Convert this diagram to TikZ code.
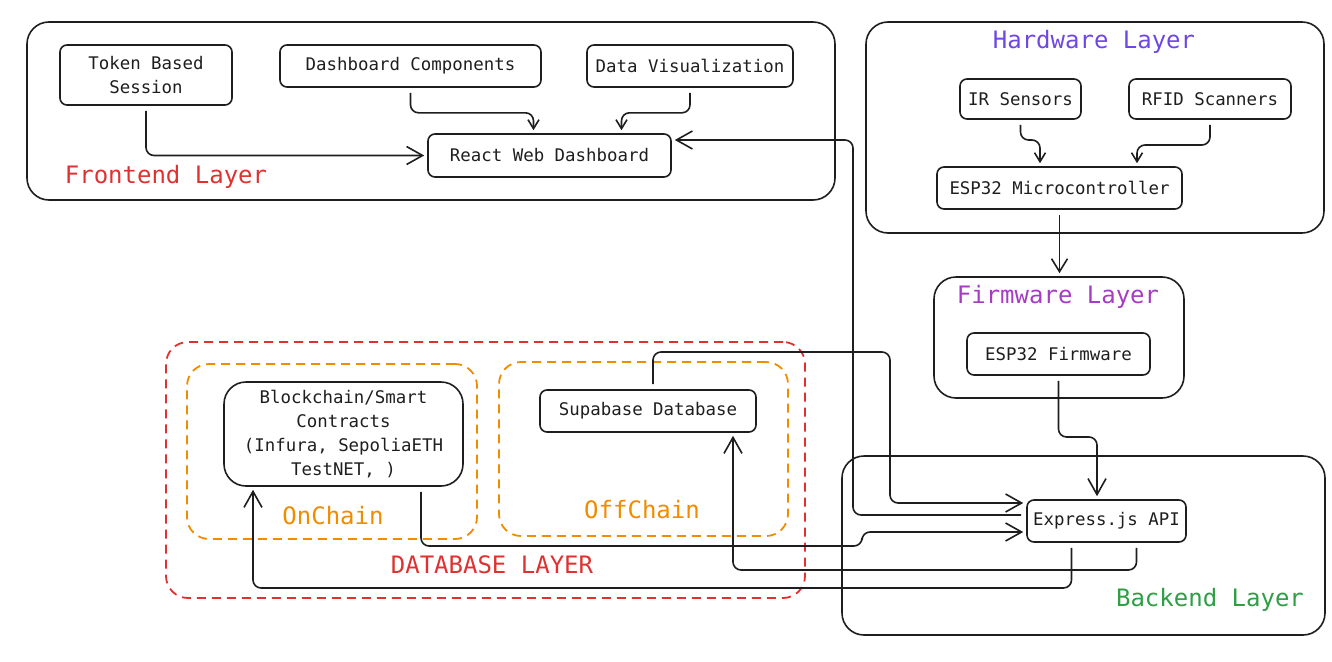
\documentclass[tikz,border=0pt]{standalone}
\usepackage{fontspec}
\setmonofont{DejaVu Sans Mono}
\usepackage{xcolor}
\usetikzlibrary{arrows.meta,positioning}
\definecolor{ink}{HTML}{1E1E1E}
\definecolor{frontred}{HTML}{E03131}
\definecolor{hwviolet}{HTML}{6F47E3}
\definecolor{fwgrape}{HTML}{A63CC4}
\definecolor{bkgreen}{HTML}{2F9E44}
\definecolor{chainorange}{HTML}{F08C00}
\tikzset{
sz/.style 2 args={minimum width=#1pt,minimum height=#2pt},
box/.style={draw=ink,line width=1.6pt,rounded corners=7pt,inner sep=0pt,align=center,text=ink,font=\ttfamily\fontsize{17.4}{24}\selectfont},
layer/.style={draw=ink,line width=1.6pt,rounded corners=22pt,inner sep=0pt},
dbox/.style={line width=1.8pt,dash pattern=on 9pt off 6pt,rounded corners=22pt,inner sep=0pt},
lbl/.style={font=\ttfamily\fontsize{24}{28}\selectfont},
link/.style={draw=ink,line width=1.6pt,rounded corners=8pt,shorten <=5pt,shorten >=3pt,-{Straight Barb[length=16pt,width=18pt]}},
sm/.style={-{Straight Barb[length=9pt,width=11pt]}},
md/.style={-{Straight Barb[length=13pt,width=16pt]}}
}
\begin{document}
\begin{tikzpicture}[x=1pt,y=-1pt]
\useasboundingbox (0,0) rectangle (1332,661);
% layers
\node[layer,sz={808}{178}] (front) at (431,111) {};
\node[layer,sz={458}{211}] (hwl) at (1095,127.5) {};
\node[layer,sz={250}{121}] (fwl) at (1059,337.5) {};
\node[layer,sz={483}{179}] (bkl) at (1083.5,545.5) {};
\node[dbox,draw=frontred,sz={639}{256}] (dbl) at (485.5,470) {};
\node[dbox,draw=chainorange,sz={290}{175}] (onl) at (332,451.5) {};
\node[dbox,draw=chainorange,sz={289}{174}] (offl) at (643.5,449) {};
\node[lbl,text=frontred] (frontlbl) at (166,177) {Frontend Layer};
\node[lbl,text=hwviolet] (hwlbl) at (1094,42) {Hardware Layer};
\node[lbl,text=fwgrape] (fwlbl) at (1058,297) {Firmware Layer};
\node[lbl,text=bkgreen] (bklbl) at (1210,600) {Backend Layer};
\node[lbl,text=frontred] (dblbl) at (492,565) {DATABASE LAYER};
\node[lbl,text=chainorange] (onlbl) at (333,516) {OnChain};
\node[lbl,text=chainorange] (offlbl) at (642,510) {OffChain};
% components
\node[box,sz={172}{60}] (tok) at (146,75) {Token Based\\Session};
\node[box,sz={261}{42}] (dash) at (410.5,66) {Dashboard Components};
\node[box,sz={206}{42}] (viz) at (690,66) {Data Visualization};
\node[box,sz={243}{43}] (react) at (549.5,155.5) {React Web Dashboard};
\node[box,sz={121}{40}] (irs) at (1020.5,99) {IR Sensors};
\node[box,sz={162}{40}] (rfid) at (1210,99) {RFID Scanners};
\node[box,sz={245}{42}] (esp) at (1059.5,188) {ESP32 Microcontroller};
\node[box,sz={183}{42}] (fw) at (1058.5,354) {ESP32 Firmware};
\node[box,sz={159}{42}] (api) at (1106.5,521) {Express.js API};
\node[box,sz={239}{104},rounded corners=22pt] (chain) at (343.5,434) {Blockchain/Smart\\Contracts\\(Infura, SepoliaETH\\TestNET, )};
\node[box,sz={216}{42}] (supa) at (648,411) {Supabase Database};
% links
\draw[link] (tok.south) |- (react.west);
\draw[link,sm] (dash.south) -- ++(0,25) -| ([xshift=-16pt]react.north);
\draw[link,sm] (viz.south) -- ++(0,25) -| ([xshift=72pt]react.north);
\draw[link] ([yshift=6pt]api.west) -| (853,140) -- ([yshift=15.5pt]react.east);
\draw[link] ([xshift=5pt]supa.north) |- (890,352) |- ([yshift=18pt]api.west);
\draw[link] ([xshift=77.5pt]chain.south) |- (862,546) |- ([yshift=-11pt]api.west);
\draw[link] ([xshift=30pt]api.south) |- (733,570) -- ([xshift=85pt]supa.south);
\draw[link] ([xshift=-35pt]api.south) |- (253,588) -- ([xshift=-90.5pt]chain.south);
\draw[link,md] (esp.south) -- (esp.south |- fwl.north);
\draw[link] (fw.south) |- (1097,437) -- ([xshift=-9.5pt]api.north);
\draw[link,sm] (irs.south) |- (1040,140) -- ([xshift=-19.5pt]esp.north);
\draw[link,sm] (rfid.south) |- (1137,145) -- ([xshift=77.5pt]esp.north);
\end{tikzpicture}
\end{document}
